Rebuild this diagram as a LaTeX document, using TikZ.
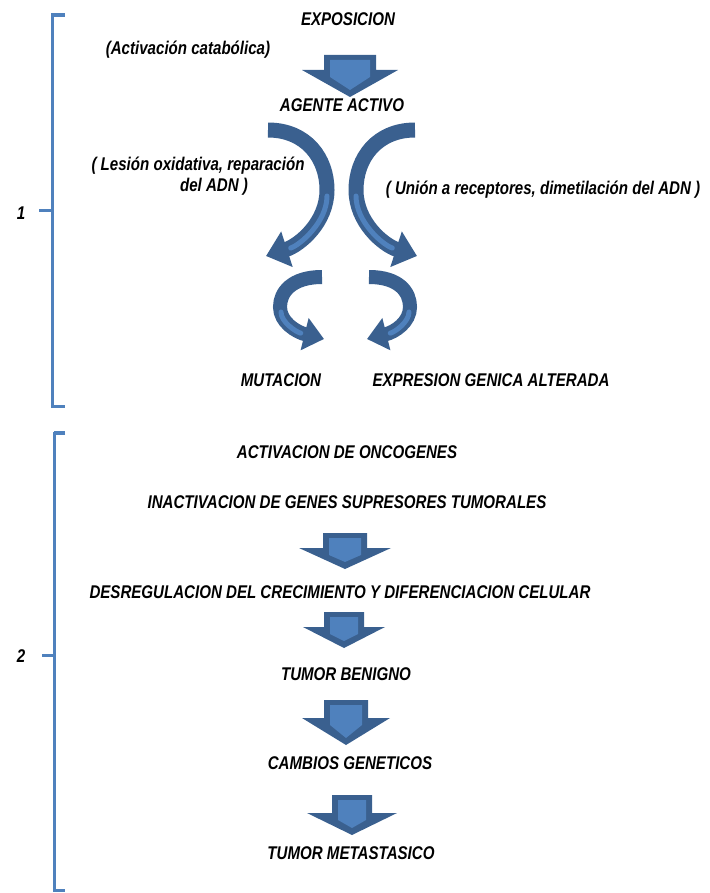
\documentclass[tikz,border=0pt]{standalone}
\usepackage{fontspec}
\setmainfont{Liberation Sans}[FakeStretch=0.82]
\usetikzlibrary{arrows.meta}
\definecolor{arrdark}{RGB}{58,96,143}
\definecolor{arrlight}{RGB}{79,129,189}
\definecolor{brk}{RGB}{79,129,189}

% straight block arrow pointing down:
% #1 centre x, #2 top, #3 shaft half width, #4 head half width, #5 head top, #6 tip
\newcommand\blockdown[6]{%
  \fill[arrdark] (#1-#3,#2) -- (#1+#3,#2) -- (#1+#3,#5) -- (#1+#4,#5) -- (#1,#6)
    -- (#1-#4,#5) -- (#1-#3,#5) -- cycle;
  \fill[arrlight] (#1-#3+6,#2+5) -- (#1+#3-6,#2+5) -- (#1+#3-6,#5+7) -- (#1,#6-7)
    -- (#1-#3+6,#5+7) -- cycle;
}

\tikzset{
  txt/.style={font=\fontsize{18.4}{21}\selectfont\bfseries\itshape, inner sep=0pt},
  bigcurve/.style={draw=arrdark, line width=15pt, -{Triangle[width=36pt,length=22pt]}},
  smallcurve/.style={draw=arrdark, line width=14pt, -{Triangle[width=32pt,length=20pt]}},
  glint/.style={draw=arrlight, line width=5pt, line cap=round},
  bracket/.style={draw=brk, line width=3pt},
}

\begin{document}
\begin{tikzpicture}[x=1pt, y=-1pt]
\useasboundingbox (0,0) rectangle (709,893);

% ---- stage 1 ----
\node[txt] (expo)    at (348,19)  {EXPOSICION};
\node[txt] (acat)    at (188,50)  {(Activación catabólica)};
\node[txt] (agente)  at (342,105) {AGENTE ACTIVO};
\node[txt] (lesionA) at (198,166) {( Lesión oxidativa, reparación};
\node[txt] (lesionB) at (214,187) {del ADN )};
\node[txt] (union)   at (543,190) {( Unión a receptores, dimetilación del ADN )};
\node[txt] (mut)     at (281,380) {MUTACION};
\node[txt] (expr)    at (491,380) {EXPRESION GENICA ALTERADA};

\blockdown{350}{55}{26}{48}{70}{97}

% large curved arrows leaving the active agent
\draw[bigcurve] (268,130) .. controls (306,130) and (327,158) .. (327,190)
  .. controls (327,222) and (300,245) .. (266,256);
\draw[glint, shorten >=26pt] (327,196) .. controls (327,222) and (300,245) .. (266,256);
\draw[bigcurve] (415,130) .. controls (377,130) and (356,158) .. (356,190)
  .. controls (356,222) and (383,245) .. (417,256);
\draw[glint, shorten >=26pt] (356,196) .. controls (356,222) and (383,245) .. (417,256);

% small curved arrows towards the outcomes
\draw[smallcurve] (322,277) .. controls (292,277) and (280,292) .. (280,307)
  .. controls (280,322) and (296,332) .. (324,339);
\draw[glint, shorten >=24pt] (281,312) .. controls (281,322) and (296,332) .. (324,339);
\draw[smallcurve] (369,277) .. controls (399,277) and (410,292) .. (410,307)
  .. controls (410,322) and (395,332) .. (367,339);
\draw[glint, shorten >=24pt] (409,312) .. controls (409,322) and (395,332) .. (367,339);

% ---- stage 2 ----
\node[txt] (onc)     at (347,452) {ACTIVACION DE ONCOGENES};
\node[txt] (inact)   at (347,502) {INACTIVACION DE GENES SUPRESORES TUMORALES};
\node[txt] (desreg)  at (340,592) {DESREGULACION DEL CRECIMIENTO Y DIFERENCIACION CELULAR};
\node[txt] (benigno) at (346,674) {TUMOR BENIGNO};
\node[txt] (cambios) at (350,763) {CAMBIOS GENETICOS};
\node[txt] (metast)  at (351,853) {TUMOR METASTASICO};

\blockdown{345}{533}{22}{46}{548}{569}
\blockdown{344}{612}{20}{41}{627}{648}
\blockdown{346}{700}{22}{44}{718}{745}
\blockdown{352}{795}{20}{45}{813}{835}

% ---- stage brackets ----
\node[txt] (one) at (21,213) {1};
\node[txt] (two) at (21,656) {2};
\draw[bracket] (65,15) -- (52,15) -- (52,406) -- (65,406);
\draw[brk, line width=4pt] (52,15) -- (65,15);
\draw[bracket] (39,211) -- (52,211);
\draw[bracket] (65,433) -- (54,433) -- (54,890) -- (65,890);
\draw[brk, line width=4pt] (54,433) -- (65,433);
\draw[bracket] (42,655) -- (54,655);
\end{tikzpicture}
\end{document}
